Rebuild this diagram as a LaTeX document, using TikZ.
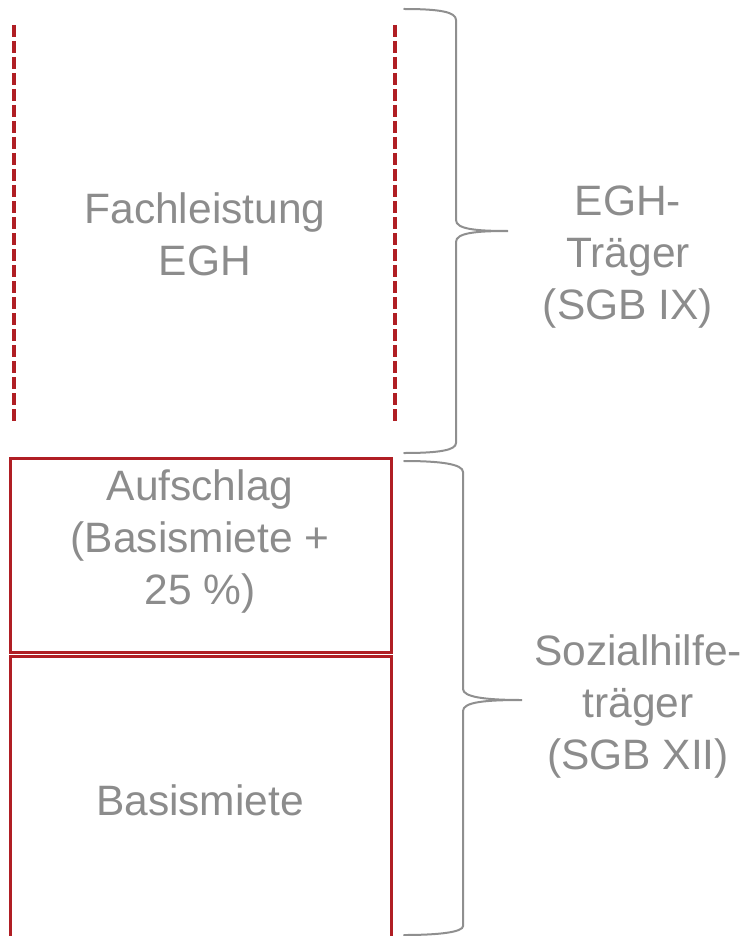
\documentclass[tikz,border=0pt]{standalone}
\usepackage{fontspec}
\setmainfont{Liberation Sans}
\definecolor{dred}{HTML}{B01E24}
\definecolor{tgray}{HTML}{8C8C8C}
\definecolor{bgray}{HTML}{8F8F8F}
\begin{document}
\begin{tikzpicture}[x=1pt,y=-1pt,
  lbl/.style={text=tgray, font=\fontsize{42.5}{52}\selectfont, align=center, inner sep=0pt},
  redbox/.style={draw=dred, line width=3pt, inner sep=0pt, anchor=north west, minimum width=381pt},
  dashline/.style={draw=dred, line width=3.5pt, dash pattern=on 12pt off 4pt},
  brace/.style={draw=bgray, line width=2pt, line cap=round}]
\useasboundingbox (0,0) rectangle (743,936);
% dashed lines
\coordinate (dl1) at (14,25);
\coordinate (dl2) at (14,421);
\coordinate (dr1) at (395,25);
\coordinate (dr2) at (395,421);
\draw[dashline] (dl1) -- (dl2);
\draw[dashline] (dr1) -- (dr2);
% boxes
\node[redbox, minimum height=194pt] (auf) at (9,457) {};
\node[redbox, minimum height=300pt] (bas) at (9,655) {};
% texts
\node[lbl] (fach) at (205,234) {Fachleistung\\EGH};
\node[lbl] (aufl) at (200,541) {Aufschlag\\(Basismiete +\\25 \%)};
\node[lbl] (basl) at (200,800) {Basismiete};
\node[lbl] (egh) at (628,257) {EGH-\\Träger\\(SGB IX)};
\node[lbl] (soz) at (638,706) {Sozialhilfe-\\träger\\(SGB XII)};
% braces
\draw[brace] (404,9) .. controls (440,9) and (456,12) .. (456,20) -- (456,220)
  .. controls (456,229) and (475,231) .. (508,231)
  .. controls (475,231) and (456,233) .. (456,242) -- (456,443)
  .. controls (456,450) and (440,453) .. (404,453);
\draw[brace] (404,461) .. controls (440,461) and (463,464) .. (463,472) -- (463,689)
  .. controls (463,697) and (485,700) .. (522,700)
  .. controls (485,700) and (463,702) .. (463,711) -- (463,926)
  .. controls (463,932) and (440,935) .. (404,935);
\end{tikzpicture}
\end{document}
